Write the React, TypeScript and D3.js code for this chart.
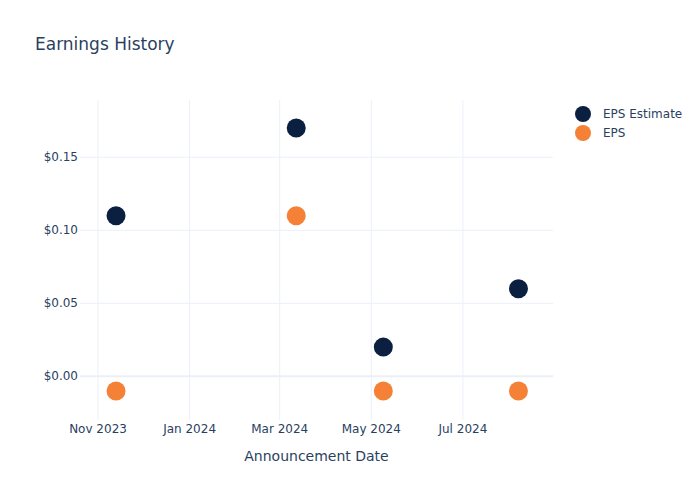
import React from "react";
import * as d3 from "d3";

const dates = ["2023-11-13", "2024-03-12", "2024-05-09", "2024-08-07"];
const epsEstimate = [0.11, 0.17, 0.02, 0.06];
const epsActual = [-0.01, 0.11, -0.01, -0.01];
const xTicks = ["2023-11-01", "2024-01-01", "2024-03-01", "2024-05-01", "2024-07-01"];
const yTicks = [0, 0.05, 0.1, 0.15];
const seriesNames = ["EPS Estimate", "EPS"];
const seriesColors = ["#0b1f41", "#f58137"];

const W = 700, H = 500;
const M = { l: 80, r: 147, t: 100, b: 80 };
const FONT = '"DejaVu Sans", verdana, arial, sans-serif';
const TEXT = "#2a3f5f";
const GRID = "#ebf0f8";

export default function App() {
  const parse = d3.utcParse("%Y-%m-%d");
  const x = d3
    .scaleUtc()
    .domain([parse("2023-10-20")!, parse("2024-08-30")!])
    .range([M.l, W - M.r]);
  const y = d3.scaleLinear().domain([-0.0299, 0.1892]).range([H - M.b, M.t]);
  const fmtX = d3.utcFormat("%b %Y");
  const fmtY = (v: number) => "$" + v.toFixed(2);
  const series = [epsEstimate, epsActual];

  return (
    <svg width={W} height={H} style={{ display: "block", position: "absolute", left: 0, top: 0, background: "#fff" }} fontFamily={FONT}>
      <rect x={0} y={0} width={W} height={H} fill="#fff" />
      {xTicks.map((t) => (
        <line key={t} x1={x(parse(t)!)} x2={x(parse(t)!)} y1={M.t} y2={H - M.b} stroke={GRID} strokeWidth={1} />
      ))}
      {yTicks.map((t) => (
        <line key={t} x1={M.l} x2={W - M.r} y1={y(t)} y2={y(t)} stroke={GRID} strokeWidth={t === 0 ? 2 : 1} />
      ))}
      {xTicks.map((t) => (
        <text key={t} x={x(parse(t)!)} y={H - M.b + 13} textAnchor="middle" fontSize={12} fill={TEXT}>
          {fmtX(parse(t)!)}
        </text>
      ))}
      {yTicks.map((t) => (
        <text key={t} x={M.l - 2} y={y(t) + 4} textAnchor="end" fontSize={12} fill={TEXT}>
          {fmtY(t)}
        </text>
      ))}
      {series.map((vals, si) =>
        vals.map((v, i) => (
          <circle key={si + "-" + i} cx={x(parse(dates[i])!)} cy={y(v)} r={9.5} fill={seriesColors[si]} />
        ))
      )}
      <text x={35} y={50} fontSize={17} fill={TEXT}>Earnings History</text>
      <text x={(M.l + W - M.r) / 2} y={461} textAnchor="middle" fontSize={14} fill={TEXT}>
        Announcement Date
      </text>
      {seriesNames.map((n, i) => (
        <g key={n} transform={`translate(583, ${114 + i * 19})`}>
          <circle cx={0} cy={0} r={8} fill={seriesColors[i]} />
          <text x={20} y={4} fontSize={12} fill={TEXT}>{n}</text>
        </g>
      ))}
    </svg>
  );
}
